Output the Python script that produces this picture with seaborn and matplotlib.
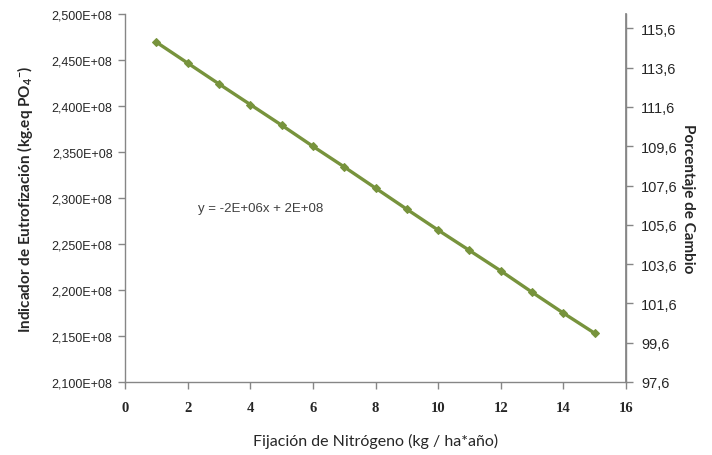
import matplotlib
matplotlib.use("Agg")
import matplotlib.pyplot as plt
import seaborn as sns
import pandas as pd
import numpy as np

# Data
fijacion = [1, 2, 3, 4, 5, 6, 7, 8, 9, 10, 11, 12, 13, 14, 15]
eutrofizacion = [2.4694e8, 2.4467e8, 2.4240e8, 2.4016e8, 2.3792e8, 2.3562e8,
                 2.3338e8, 2.3108e8, 2.2878e8, 2.2651e8, 2.2430e8, 2.2208e8,
                 2.1976e8, 2.1749e8, 2.1530e8]
left_ticks = [2.10e8, 2.15e8, 2.20e8, 2.25e8, 2.30e8, 2.35e8, 2.40e8, 2.45e8, 2.50e8]
left_tick_labels = ["2,100E+08", "2,150E+08", "2,200E+08", "2,250E+08", "2,300E+08",
                    "2,350E+08", "2,400E+08", "2,450E+08", "2,500E+08"]
right_ticks = [97.6, 99.6, 101.6, 103.6, 105.6, 107.6, 109.6, 111.6, 113.6, 115.6]
right_tick_labels = ["97,6", "99,6", "101,6", "103,6", "105,6", "107,6", "109,6",
                     "111,6", "113,6", "115,6"]
x_ticks = [0, 2, 4, 6, 8, 10, 12, 14, 16]
equation = "y = -2E+06x + 2E+08"

df = pd.DataFrame({"x": fijacion, "y": eutrofizacion})

sns.set_theme(style="white")
plt.rcParams["font.family"] = ["Lato", "DejaVu Sans"]
plt.rcParams["mathtext.default"] = "regular"

fig = plt.figure(figsize=(7.12, 4.56), dpi=100)
ax = fig.add_axes([125/712, 1-383/456, (626-125)/712, (383-15)/456])

green = "#77933C"
sns.lineplot(data=df, x="x", y="y", ax=ax, color=green, linewidth=2.4,
             marker="D", markersize=4.5, markeredgecolor=green, markerfacecolor=green)

ax.set_xlim(0, 16)
ax.set_ylim(2.10e8, 2.50e8)
ax.set_xticks(x_ticks)
ax.set_xticklabels([str(t) for t in x_ticks], family="Liberation Serif",
                   fontweight="bold", fontsize=10.5)
ax.set_yticks(left_ticks)
ax.set_yticklabels(left_tick_labels, family="Liberation Sans", fontsize=9)

gray = "#868686"
for side in ["left", "bottom", "right"]:
    ax.spines[side].set_color(gray)
    ax.spines[side].set_linewidth(1.0)
ax.spines["top"].set_visible(False)
ax.tick_params(axis="both", direction="out", length=5, color=gray, width=1,
               left=True, bottom=True, pad=4)
ax.tick_params(axis="x", pad=9)

ax.set_xlabel("Fijación de Nitrógeno (kg / ha*año)", fontsize=11.5, labelpad=13)
ax.set_ylabel("Indicador de Eutrofización (kg.eq PO$_4$$^{-}$)", fontsize=11,
              fontweight="bold", labelpad=12)

ax.text(2.33, 2.289e8, equation, fontsize=9.5, color="#404040",
        family="Liberation Sans", va="center", ha="left")

ax2 = ax.twinx()
ax2.set_ylim(97.6, 116.33)
ax2.set_yticks(right_ticks)
ax2.set_yticklabels(right_tick_labels, family="Liberation Sans", fontsize=10.5)
for side in ["left", "bottom", "top"]:
    ax2.spines[side].set_visible(False)
ax2.spines["right"].set_color(gray)
ax2.tick_params(axis="y", direction="out", length=5, color=gray, width=1, right=True, pad=6)
ax2.set_ylabel("Porcentaje de Cambio", fontsize=11, fontweight="bold",
               rotation=-90, labelpad=12)

fig.savefig("out.png", dpi=100)
